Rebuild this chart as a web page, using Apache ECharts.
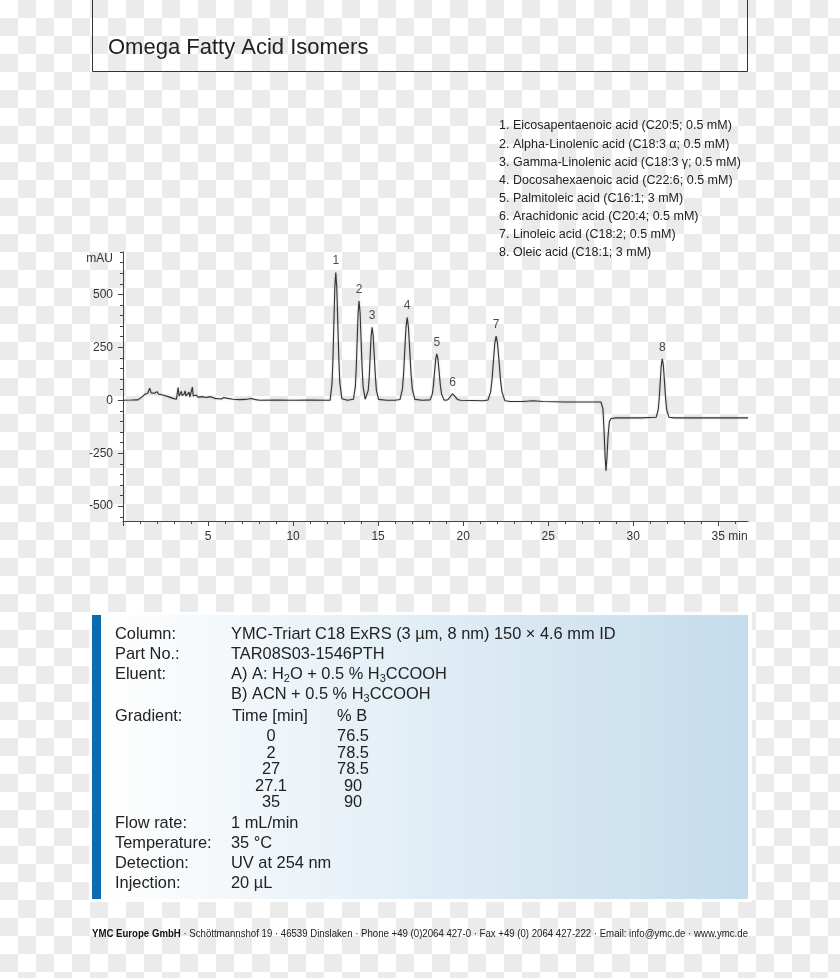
<!DOCTYPE html>
<html><head><meta charset="utf-8">
<script src="https://cdn.jsdelivr.net/npm/echarts@6/dist/echarts.min.js"></script>
<style>
html,body{margin:0;padding:0;}
body{width:840px;height:978px;background-color:#fff;background-image:repeating-conic-gradient(#ebebeb 0 25%, #fff 0 50%);background-size:36px 36px;background-position:0 0;overflow:hidden;}
#chart{width:840px;height:978px;}
</style></head><body><div id="chart"></div>
<script>
// ---------- data ----------
const titleText = 'Omega Fatty Acid Isomers';
const peakLabel = ['1','2','3','4','5','6','7','8'];
const peakTime = [12.51, 13.88, 14.65, 16.71, 18.45, 19.38, 21.94, 31.71];
const peakHeight = [603, 468, 345, 390, 219, 30, 303, 196];
const compoundNames = [
  'Eicosapentaenoic acid (C20:5; 0.5 mM)',
  'Alpha-Linolenic acid (C18:3 α; 0.5 mM)',
  'Gamma-Linolenic acid (C18:3 γ; 0.5 mM)',
  'Docosahexaenoic acid (C22:6; 0.5 mM)',
  'Palmitoleic acid (C16:1; 3 mM)',
  'Arachidonic acid (C20:4; 0.5 mM)',
  'Linoleic acid (C18:2; 0.5 mM)',
  'Oleic acid (C18:1; 3 mM)'
];
// chromatogram trace [min, mAU]
const traceEarly = [
  [0,0],[0.5,1],[0.88,2],[1.1,15],[1.28,28],[1.45,33],[1.57,57],[1.65,35],[1.73,36],[1.85,33],
  [2.0,41],[2.08,30],[2.35,25],[2.7,16],[2.94,9],[3.14,5],[3.24,60],[3.3,20],[3.34,17],[3.43,42],
  [3.48,22],[3.53,22],[3.6,30],[3.65,44],[3.7,20],[3.76,17],[3.88,38],[3.93,15],[3.98,13],[4.08,62],
  [4.13,20],[4.18,13],[4.31,25],[4.4,15],[4.51,14],[4.7,17],[4.9,13],[5.05,16],[5.2,16],[5.39,9],
  [5.5,12],[5.78,6],[5.92,13],[6.0,8],[6.08,10],[6.47,5],[6.86,3],[7.2,4],[7.55,8],[7.8,3],
  [8.04,0],[9,1],[10,0],[11,1],[12,0]
];
const tracePeaks = [
  [12.18,0],[12.29,80],[12.345,195],[12.40,365],[12.455,530],[12.51,603],[12.57,532],[12.63,366],[12.69,196],[12.75,82],[12.87,7],[13.2,0],
  [13.55,5],[13.66,63],[13.715,152],[13.77,284],[13.825,413],[13.88,468],[13.94,413],[14.00,284],[14.06,152],[14.12,63],[14.24,5],
  [14.31,4],[14.42,47],[14.48,112],[14.535,209],[14.59,304],[14.65,345],[14.71,304],[14.775,209],[14.84,112],[14.90,47],[15.03,4],[15.5,0],[16.0,0],
  [16.29,4],[16.43,53],[16.50,127],[16.57,237],[16.64,344],[16.71,390],[16.785,344],[16.86,237],[16.935,127],[17.01,53],[17.16,4],[17.6,0],
  [18.06,2],[18.19,30],[18.255,71],[18.32,133],[18.385,193],[18.45,219],[18.52,193],[18.59,133],[18.66,71],[18.73,30],[18.87,2],
  [19.0,0],[19.12,4],[19.25,18],[19.38,30],[19.52,18],[19.66,4],[19.85,0],[20.5,-1],[21.2,-2],
  [21.46,1],[21.62,41],[21.70,98],[21.78,184],[21.86,267],[21.94,303],[22.025,267],[22.11,184],[22.195,98],[22.28,41],[22.45,-2]
];
const traceLate = [
  [22.7,-5],[23.5,-6],[24.1,-2],[24.7,-6],[26.0,-8],[28.1,-8],
  [28.14,-9],[28.22,-40],[28.29,-150],[28.35,-270],[28.40,-333],[28.45,-280],[28.52,-170],[28.6,-100],[28.7,-86],[29.0,-83],[30.5,-83],
  [31.35,-80],[31.47,-45],[31.53,8],[31.59,86],[31.65,163],[31.71,196],[31.775,163],[31.84,86],[31.905,8],[31.97,-45],[32.10,-80],
  [32.4,-83],[34.0,-83],[36.75,-83]
];
const xLabelValues = [5,10,15,20,25,30,35];
const xMajorTicks = [0,5,10,15,20,25,30,35];
const xMinorTicks = [0,1,2,3,4,5,6,7,8,9,10,11,12,13,14,15,16,17,18,19,20,21,22,23,24,25,26,27,28,29,30,31,32,33,34,35,36];
const yLabelValues = [-500,-250,0,250,500];
const yMinorTicks = [-550,-500,-450,-400,-350,-300,-250,-200,-150,-100,-50,0,50,100,150,200,250,300,350,400,450,500,550,600,650,700];
const xMin = 0, xMax = 36.75, yMin = -570, yMax = 700;
const yUnit = 'mAU', xUnit = 'min';

const condLabels = ['Column:','Part No.:','Eluent:','','Gradient:','Flow rate:','Temperature:','Detection:','Injection:'];
const condValues = ['YMC-Triart C18 ExRS (3 µm, 8 nm) 150 × 4.6 mm ID','TAR08S03-1546PTH',
  'A) A: H{s|2}O + 0.5 % H{s|3}CCOOH','B) ACN + 0.5 % H{s|3}CCOOH','',
  '1 mL/min','35 °C','UV at 254 nm','20 µL'];
const gradHeader = ['Time [min]','% B'];
const gradTime = ['0','2','27','27.1','35'];
const gradB = ['76.5','78.5','78.5','90','90'];
const footerBold = 'YMC Europe GmbH';
const footerRest = ' · Schöttmannshof 19 · 46539 Dinslaken · Phone +49 (0)2064 427-0 · Fax +49 (0) 2064 427-222 · Email: info@ymc.de · www.ymc.de';

// ---------- chart ----------
const FONT = '"Liberation Sans", Arial, Helvetica, sans-serif';
const chart = echarts.init(document.getElementById('chart'), null, {renderer:'canvas'});
const trace = traceEarly.concat(tracePeaks, traceLate);
const axisColor = '#444';

const graphic = [];
// title frame
graphic.push({type:'line', shape:{x1:92.5,y1:0,x2:92.5,y2:71.5}, style:{stroke:'#333',lineWidth:1}});
graphic.push({type:'line', shape:{x1:747.5,y1:0,x2:747.5,y2:71.5}, style:{stroke:'#333',lineWidth:1}});
graphic.push({type:'line', shape:{x1:92.5,y1:71.5,x2:747.5,y2:71.5}, style:{stroke:'#333',lineWidth:1}});
graphic.push({type:'text', x:108, y:48, style:{text:titleText, fontSize:22, fontFamily:FONT, fill:'#222', verticalAlign:'middle'}});
// compound list
compoundNames.forEach((n,i)=>{
  graphic.push({type:'text', x:499, y:126+i*18.1, style:{text:peakLabel[i]+'.', fontSize:12.5, fontFamily:FONT, fill:'#222', verticalAlign:'middle'}});
  graphic.push({type:'text', x:513, y:126+i*18.1, style:{text:n, fontSize:12.5, fontFamily:FONT, fill:'#222', verticalAlign:'middle'}});
});
// unit label
graphic.push({type:'text', x:113, y:259, style:{text:yUnit, fontSize:12, fontFamily:FONT, fill:'#333', align:'right', verticalAlign:'middle'}});
// info box
graphic.push({type:'rect', shape:{x:89,y:612,width:663,height:290}, style:{fill:'#ffffff'}});
graphic.push({type:'rect', shape:{x:92,y:615,width:656,height:284}, style:{fill:new echarts.graphic.LinearGradient(0,0,1,0,[{offset:0,color:'#ffffff'},{offset:1,color:'#c4dcec'}])}});
graphic.push({type:'rect', shape:{x:92,y:615,width:9,height:284}, style:{fill:'#0b6cb1'}});
const rowY = [634,654,674.5,694.5,716,823,843,863,883];
const txtStyle = {fontSize:16.4, fontFamily:FONT, fill:'#222', verticalAlign:'middle'};
const rich = {s:{fontSize:11, fontFamily:FONT, fill:'#222', verticalAlign:'bottom', lineHeight:12}};
condLabels.forEach((l,i)=>{
  if (l) graphic.push({type:'text', x:115, y:rowY[i], style:Object.assign({text:l}, txtStyle)});
  if (condValues[i]) graphic.push({type:'text', x:231, y:rowY[i], style:Object.assign({text:condValues[i], rich:rich, lineHeight:20}, txtStyle)});
});
graphic.push({type:'text', x:232, y:716, style:Object.assign({text:gradHeader[0]}, txtStyle)});
graphic.push({type:'text', x:337, y:716, style:Object.assign({text:gradHeader[1]}, txtStyle)});
const gradY = [736.5,753,769.5,786,802.5];
gradTime.forEach((t,i)=>{
  graphic.push({type:'text', x:271, y:gradY[i], style:Object.assign({text:t, align:'center'}, txtStyle)});
  graphic.push({type:'text', x:353, y:gradY[i], style:Object.assign({text:gradB[i], align:'center'}, txtStyle)});
});
// footer (fit to width)
const cv = document.createElement('canvas').getContext('2d');
cv.font = 'bold 11px ' + FONT; const w1 = cv.measureText(footerBold).width;
cv.font = '11px ' + FONT; const w2 = cv.measureText(footerRest).width;
const fScale = 656/(w1+w2);
graphic.push({type:'text', x:92, y:934, scaleX:fScale, style:{text:'{b|'+footerBold+'}{r|'+footerRest+'}', fill:'#222', verticalAlign:'middle',
  rich:{b:{fontSize:11,fontWeight:'bold',fontFamily:FONT,fill:'#111'}, r:{fontSize:11,fontFamily:FONT,fill:'#222'}}}});

const option = {
  animation:false,
  textStyle:{fontFamily:FONT},
  grid:{left:123, right:92, top:252, bottom:457, containLabel:false},
  xAxis:[
    {type:'value', min:xMin, max:xMax, position:'bottom',
     axisLine:{show:true, onZero:false, lineStyle:{color:axisColor,width:1}},
     axisTick:{show:true, customValues:xMajorTicks, length:5, lineStyle:{color:axisColor}},
     axisLabel:{show:true, customValues:xLabelValues, margin:10, fontSize:12, color:'#333', fontFamily:FONT},
     splitLine:{show:false}},
    {type:'value', min:xMin, max:xMax, position:'bottom',
     axisLine:{show:false, onZero:false},
     axisTick:{show:true, customValues:xMinorTicks, length:3, lineStyle:{color:axisColor}},
     axisLabel:{show:false}, splitLine:{show:false}}
  ],
  yAxis:[
    {type:'value', min:yMin, max:yMax, position:'left',
     axisLine:{show:true, onZero:false, lineStyle:{color:axisColor,width:1}},
     axisTick:{show:true, customValues:yLabelValues, length:5, lineStyle:{color:axisColor}},
     axisLabel:{show:true, customValues:yLabelValues, margin:10, fontSize:12, color:'#333', fontFamily:FONT},
     splitLine:{show:false}},
    {type:'value', min:yMin, max:yMax, position:'left',
     axisLine:{show:false, onZero:false},
     axisTick:{show:true, customValues:yMinorTicks, length:3, lineStyle:{color:axisColor}},
     axisLabel:{show:false}, splitLine:{show:false}}
  ],
  series:[
    {type:'line', data:trace, xAxisIndex:0, yAxisIndex:0, showSymbol:false, symbol:'none', smooth:false,
     lineStyle:{color:'#333', width:1.1, shadowColor:'rgba(0,0,0,0.25)', shadowBlur:2}, z:3},
    {type:'scatter', xAxisIndex:0, yAxisIndex:0, data:peakTime.map((t,i)=>[t,peakHeight[i]]), symbolSize:1,
     itemStyle:{color:'rgba(0,0,0,0)'},
     label:{show:true, position:'top', distance:5, fontSize:12, color:'#222', fontFamily:FONT,
       formatter:(p)=>peakLabel[p.dataIndex]}, z:4}
  ],
  graphic:graphic
};
chart.setOption(option);
const px35 = chart.convertToPixel({xAxisIndex:0}, 35);
graphic.push({type:'text', x:px35+10, y:536.5, style:{text:xUnit, fontSize:12, fontFamily:FONT, fill:'#333', verticalAlign:'middle'}});
chart.setOption({graphic:graphic});
</script></body></html>
